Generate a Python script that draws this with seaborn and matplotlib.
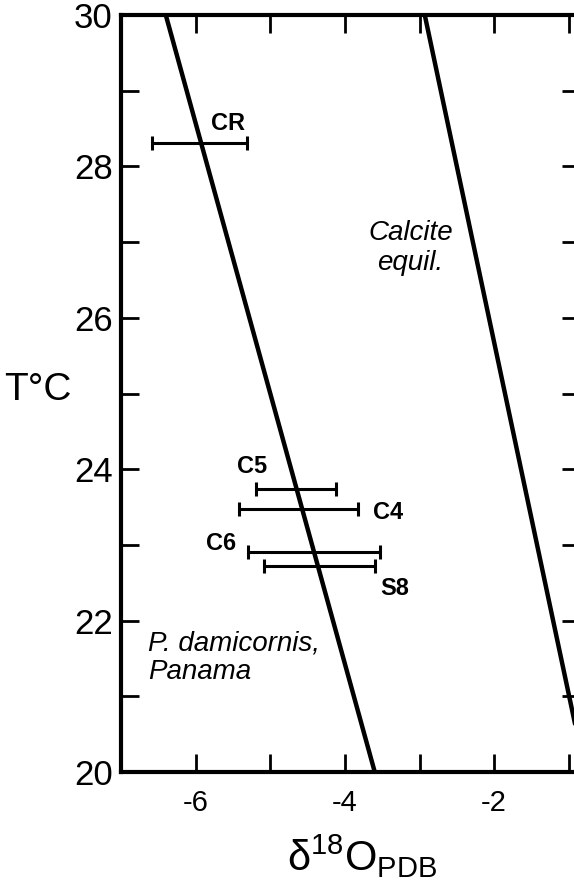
import numpy as np
import pandas as pd
import matplotlib
matplotlib.use("Agg")
import matplotlib.pyplot as plt
import seaborn as sns

# DATA
# temperature end points of the two lines (deg C)
line_temp = [30, 20]
# P. damicornis, Panama line
coral_d18o = [-6.40, -3.60]
# calcite equilibrium line
calcite_d18o = [-2.93, -0.78]

# sample error bars: name, temperature, d18O range
sample_names = ["CR", "C5", "C4", "C6", "S8"]
sample_temp = [28.31, 23.74, 23.47, 22.91, 22.72]
sample_low = [-6.59, -5.19, -5.42, -5.30, -5.09]
sample_high = [-5.31, -4.12, -3.83, -3.53, -3.60]

x_ticks = [-6, -4, -2]
y_ticks = [20, 22, 24, 26, 28, 30]

# SETTINGS
sns.set_style("ticks")
plt.rcParams["font.family"] = ["Liberation Sans", "DejaVu Sans"]
plt.rcParams["mathtext.fontset"] = "custom"
plt.rcParams["mathtext.rm"] = "Liberation Sans"
plt.rcParams["axes.unicode_minus"] = False
plt.rcParams["text.color"] = "black"
plt.rcParams["axes.labelcolor"] = "black"
plt.rcParams["xtick.color"] = "black"
plt.rcParams["ytick.color"] = "black"
plt.rcParams["axes.edgecolor"] = "black"

lines_df = pd.DataFrame({
    "temp": line_temp * 2,
    "d18o": coral_d18o + calcite_d18o,
    "line": ["coral"] * 2 + ["calcite"] * 2,
})

fig = plt.figure(figsize=(5.74, 8.82), dpi=100)
ax = fig.add_axes([121 / 574, 110 / 882, 459 / 574, 757 / 882])

# the two straight lines
sns.lineplot(
    data=lines_df,
    x="d18o",
    y="temp",
    units="line",
    estimator=None,
    sort=False,
    color="black",
    linewidth=3.2,
    ax=ax,
)

# horizontal error bars for the samples
centers = (np.array(sample_low) + np.array(sample_high)) / 2
half = (np.array(sample_high) - np.array(sample_low)) / 2
ax.errorbar(
    centers,
    sample_temp,
    xerr=half,
    fmt="none",
    ecolor="black",
    elinewidth=2.2,
    capsize=5,
    capthick=2.2,
)

# sample labels
label_pos = {
    "CR": (-5.56, 28.57),
    "C5": (-5.25, 24.04),
    "C4": (-3.42, 23.43),
    "C6": (-5.66, 23.02),
    "S8": (-3.33, 22.42),
}
for name in sample_names:
    lx, ly = label_pos[name]
    ax.text(lx, ly, name, ha="center", va="center",
            fontsize=17, fontweight="bold")

ax.text(-3.12, 26.92, "Calcite\nequil.", ha="center", va="center",
        fontsize=20, style="italic", linespacing=1.2)
ax.text(-6.64, 21.51, "P. damicornis,\nPanama", ha="left", va="center",
        fontsize=20, style="italic", linespacing=1.15)

# AXES
ax.set_xlim(-7, -0.85)
ax.set_ylim(20, 30)
ax.set_xticks(x_ticks)
ax.set_xticks(np.arange(-7, 0), minor=True)
ax.set_yticks(y_ticks)
ax.set_yticks(np.arange(21, 30, 2), minor=True)
ax.tick_params(axis="both", which="both", direction="in",
               length=13, width=2, top=True, right=True)
ax.tick_params(axis="x", which="major", labelsize=21, pad=12)
ax.tick_params(axis="y", which="major", labelsize=25, pad=6)

for side in ["left", "right", "top", "bottom"]:
    ax.spines[side].set_visible(True)
    ax.spines[side].set_linewidth(3)

ax.set_xlabel("δ$^{18}$O$_{\\mathrm{PDB}}$", fontsize=30)
ax.xaxis.set_label_coords(0.525, -0.08)
ax.set_ylabel("T°C", fontsize=28, rotation=0, ha="left", va="center")
ax.yaxis.set_label_coords(-0.255, 0.505)

fig.savefig("out.png", dpi=100)
